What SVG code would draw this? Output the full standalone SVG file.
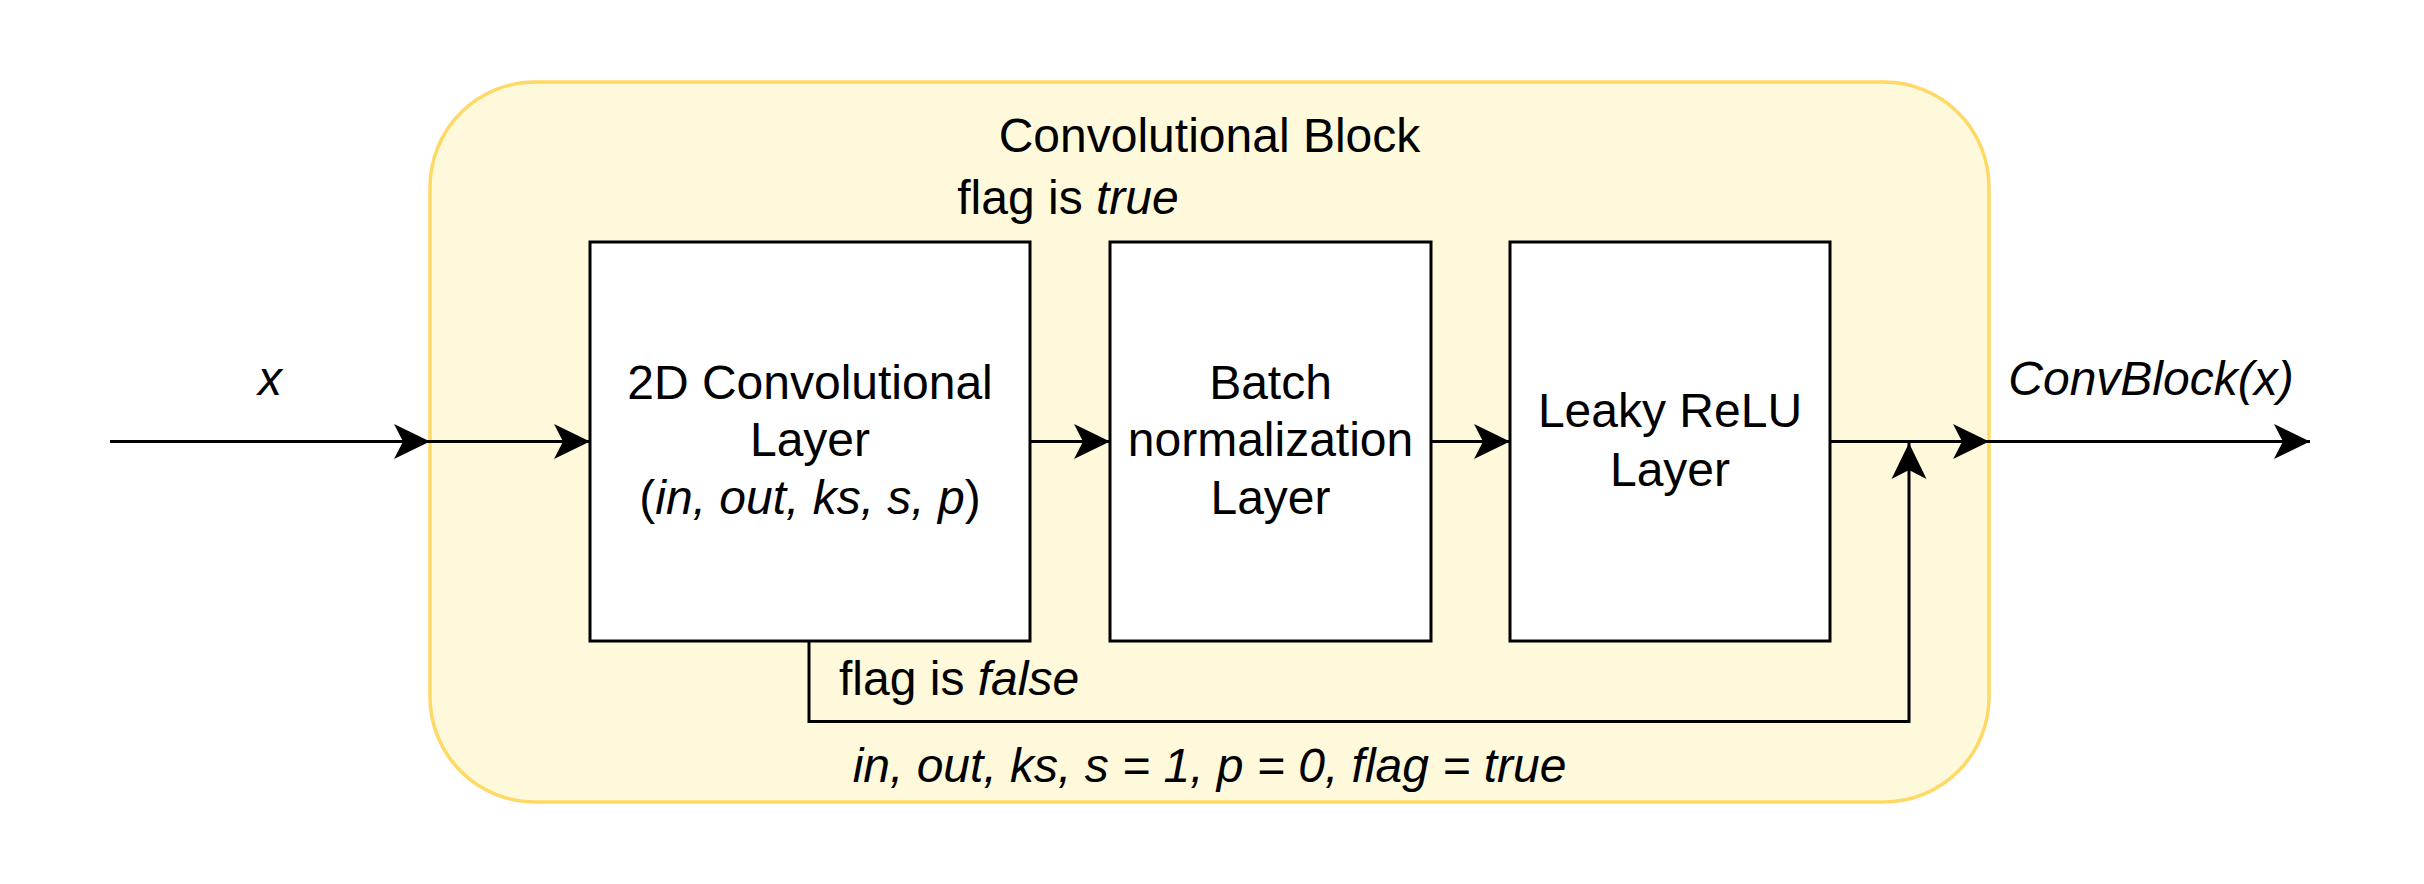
<svg xmlns="http://www.w3.org/2000/svg" width="2424" height="884" viewBox="0 0 2424 884">
<style>
text{font-family:"Liberation Sans",Arial,sans-serif;font-size:48px;fill:#000;text-anchor:middle}
.i{font-style:italic}
.box{fill:#fff;stroke:#000;stroke-width:3}
.edge{fill:none;stroke:#000;stroke-width:3}
</style>
<defs>
<marker id="arr" markerUnits="userSpaceOnUse" markerWidth="40" markerHeight="40" refX="36" refY="17.5" orient="auto" overflow="visible">
<path d="M0,0 L36,17.5 L0,35 L9,17.5 Z" fill="#000"/>
</marker>
</defs>
<rect width="2424" height="884" fill="#fff"/>
<g id="container">
<rect x="430" y="82" width="1559" height="720" rx="105" ry="105" fill="#FFF9DB" stroke="#FFD966" stroke-width="3.5"/>
<text x="1209.5" y="152">Convolutional Block</text>
<text x="1209.5" y="782" class="i">in, out, ks, s = 1, p = 0, flag = true</text>
</g>
<g id="conv">
<rect class="box" x="590" y="242" width="440" height="399"/>
<text x="810" y="399">2D Convolutional</text>
<text x="810" y="456">Layer</text>
<text x="810" y="514">(<tspan class="i">in, out, ks, s, p</tspan>)</text>
</g>
<g id="batchnorm">
<rect class="box" x="1110" y="242" width="321" height="399"/>
<text x="1270.5" y="399">Batch</text>
<text x="1270.5" y="456">normalization</text>
<text x="1270.5" y="514">Layer</text>
</g>
<g id="relu">
<rect class="box" x="1510" y="242" width="320" height="399"/>
<text x="1670" y="427">Leaky ReLU</text>
<text x="1670" y="486">Layer</text>
</g>
<g id="connectors">
<path class="edge" d="M110,441.5 H430" marker-end="url(#arr)"/>
<path class="edge" d="M430,441.5 H590" marker-end="url(#arr)"/>
<path class="edge" d="M1030,441.5 H1110" marker-end="url(#arr)"/>
<path class="edge" d="M1431,441.5 H1510" marker-end="url(#arr)"/>
<path class="edge" d="M1830,441.5 H1989" marker-end="url(#arr)"/>
<path class="edge" d="M1989,441.5 H2310" marker-end="url(#arr)"/>
<path class="edge" d="M809,641 V721.5 H1909 V443" marker-end="url(#arr)"/>
</g>
<g id="labels">
<text x="270" y="395" class="i">x</text>
<text x="1068" y="214">flag is <tspan class="i">true</tspan></text>
<text x="839" y="694.5" style="text-anchor:start">flag is <tspan class="i">false</tspan></text>
<text x="2151" y="395" class="i">ConvBlock(x)</text>
</g>
</svg>
